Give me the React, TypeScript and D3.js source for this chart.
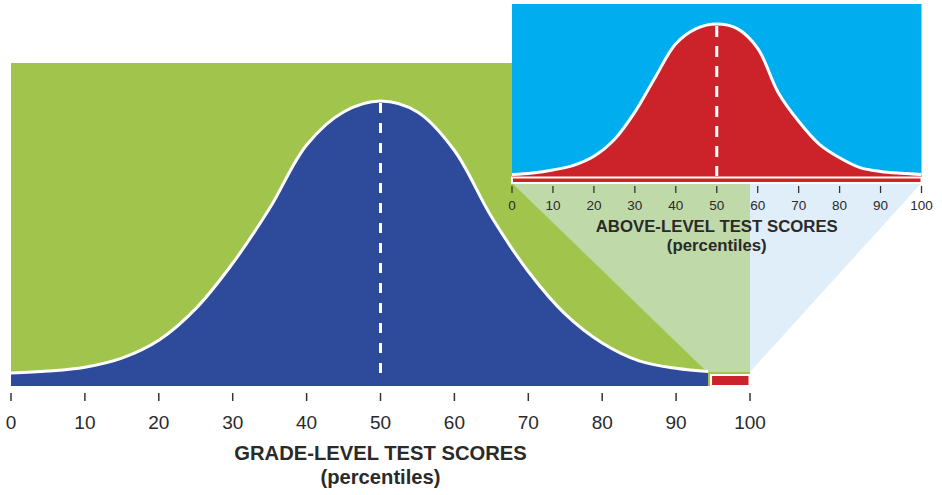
import React from 'react';
import * as d3 from 'd3';

// percentile positions where the curve heights were read
const percentiles = d3.range(0, 101, 5);
// relative heights (peak = 100)
const gradeHeights = [1.1, 1.8, 3.2, 6.5, 13, 24.5, 41, 61, 84, 96, 100, 96, 82, 58, 38, 22.5, 12, 5.5, 2.8, 1.5, 1];
const aboveHeights = [1, 2, 4, 7, 13, 24, 42, 65, 87, 97, 100, 97, 84, 55, 36, 21, 12, 5.5, 3, 1.8, 1];
const tickValues = [0, 10, 20, 30, 40, 50, 60, 70, 80, 90, 100];
const median = 50;
const cutoff = 95; // top 5% -> above-level test

const gradeTitle = 'GRADE-LEVEL TEST SCORES';
const aboveTitle = 'ABOVE-LEVEL TEST SCORES';
const subTitle = '(percentiles)';

const W = 942;
const H = 495;
const FONT = "'Liberation Sans', Arial, sans-serif";
const TEXT = '#2a2a2a';

export default function App() {
  // main chart
  const x = d3.scaleLinear().domain([0, 100]).range([11, 750]);
  const y = d3.scaleLinear().domain([0, 100]).range([376, 101]);
  const stripBottom = 386;
  // inset chart
  const xi = d3.scaleLinear().domain([0, 100]).range([512, 921.5]);
  const yi = d3.scaleLinear().domain([0, 100]).range([176, 24]);

  const gradePts = percentiles.map((p, i) => ({ p, h: gradeHeights[i] }));
  const abovePts = percentiles.map((p, i) => ({ p, h: aboveHeights[i] }));

  const gradeArea = d3
    .area<{ p: number; h: number }>()
    .x((d) => x(d.p))
    .y0(stripBottom)
    .y1((d) => y(d.h))
    .curve(d3.curveCatmullRom);
  const gradeLine = gradeArea.lineY1();

  const aboveArea = d3
    .area<{ p: number; h: number }>()
    .x((d) => xi(d.p))
    .y0(yi(0) + 1)
    .y1((d) => yi(d.h))
    .curve(d3.curveCatmullRom);
  const aboveLine = aboveArea.lineY1();

  const cutX = x(cutoff) - 6;
  const polyTop = yi(0) + 7;
  const polyBottom = y(0) - 4;
  const poly = [
    [xi(0), polyTop],
    [xi(100), polyTop],
    [x(100), polyBottom],
    [cutX, polyBottom],
  ];
  const polyPath = 'M' + poly.map((p) => p.join(',')).join('L') + 'Z';

  return (
    <svg width={W} height={H} style={{ position: 'absolute', left: 0, top: 0, background: '#fff' }} fontFamily={FONT}>
      <defs>
        <clipPath id="leftOfMain">
          <rect x={0} y={0} width={x(100)} height={H} />
        </clipPath>
        <clipPath id="rightOfMain">
          <rect x={x(100)} y={0} width={W} height={H} />
        </clipPath>
        <clipPath id="gradeClip">
          <rect x={0} y={0} width={cutX + 1} height={H} />
        </clipPath>
      </defs>

      {/* main background */}
      <rect x={x(0)} y={63} width={x(100) - x(0)} height={stripBottom - 63} fill="#a1c54c" />

      {/* zoom projection */}
      <path d={polyPath} fill="#c0d9a9" clipPath="url(#leftOfMain)" />
      <path d={polyPath} fill="#dfeef9" clipPath="url(#rightOfMain)" />

      {/* grade-level curve */}
      <g clipPath="url(#gradeClip)">
        <path d={gradeArea(gradePts) || ''} fill="#2e4a9a" />
        <path d={gradeLine(gradePts) || ''} fill="none" stroke="#fff" strokeWidth={3} />
      </g>
      <line x1={x(median)} x2={x(median)} y1={y(100) + 2} y2={y(0)} stroke="#fff" strokeWidth={3} strokeDasharray="10,10" />
      <rect x={x(cutoff) - 2} y={y(0) - 1} width={x(100) - x(cutoff) + 1.5} height={stripBottom - y(0) + 1} fill="#cc2229" stroke="#fff" strokeWidth={2} />

      {/* main axis */}
      {tickValues.map((t) => (
        <g key={'m' + t}>
          <line x1={x(t)} x2={x(t)} y1={393} y2={401} stroke="#333" strokeWidth={1.5} />
          <text x={x(t)} y={429} textAnchor="middle" fontSize={19} fill={TEXT}>{t}</text>
        </g>
      ))}
      <text x={x(median)} y={460} textAnchor="middle" fontSize={20.2} fontWeight="bold" fill={TEXT}>{gradeTitle}</text>
      <text x={x(median)} y={484} textAnchor="middle" fontSize={20.2} fontWeight="bold" fill={TEXT}>{subTitle}</text>

      {/* inset */}
      <rect x={xi(0)} y={4} width={xi(100) - xi(0)} height={yi(0)} fill="#00adee" />
      <path d={aboveArea(abovePts) || ''} fill="#cc2229" />
      <path d={aboveLine(abovePts) || ''} fill="none" stroke="#fff" strokeWidth={3} />
      <line x1={xi(median)} x2={xi(median)} y1={yi(100) + 2} y2={yi(0)} stroke="#fff" strokeWidth={3} strokeDasharray="11,9" />
      <rect x={xi(0)} y={yi(0) + 1.5} width={xi(100) - xi(0)} height={5.5} fill="#cc2229" stroke="#fff" strokeWidth={2} />

      {tickValues.map((t) => (
        <g key={'i' + t}>
          <line x1={xi(t)} x2={xi(t)} y1={186} y2={193} stroke="#333" strokeWidth={1.3} />
          <text x={xi(t)} y={210} textAnchor="middle" fontSize={13.5} fill={TEXT}>{t}</text>
        </g>
      ))}
      <text x={xi(median)} y={232} textAnchor="middle" fontSize={16.8} fontWeight="bold" fill={TEXT}>{aboveTitle}</text>
      <text x={xi(median)} y={251} textAnchor="middle" fontSize={16.8} fontWeight="bold" fill={TEXT}>{subTitle}</text>
    </svg>
  );
}
